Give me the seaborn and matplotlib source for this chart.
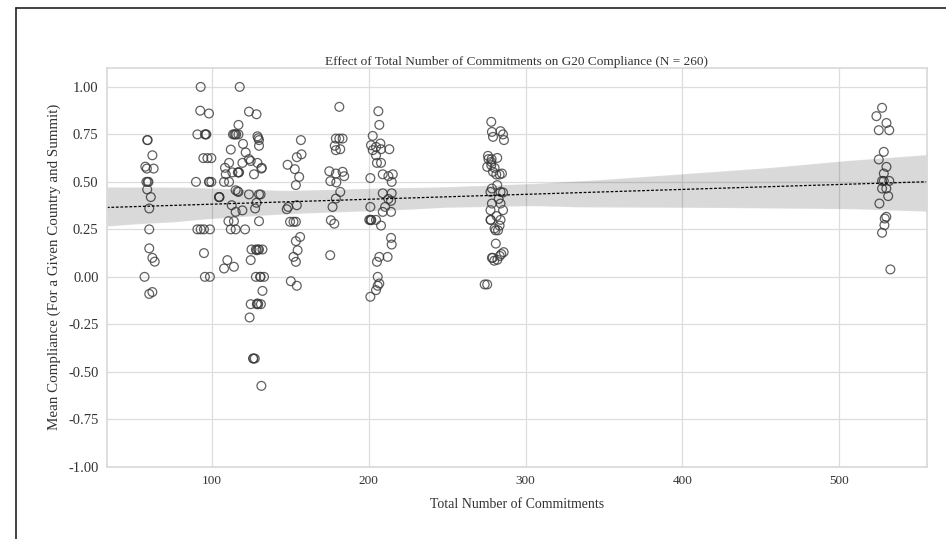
import numpy as np
import pandas as pd
import matplotlib
matplotlib.use("Agg")
import matplotlib.pyplot as plt
from matplotlib.lines import Line2D
import seaborn as sns

# ---------------------------------------------------------------------------
# values, one pair of lists per summit cluster
commit_a = [58.7, 59.0, 62.0, 57.5, 58.5, 62.8, 58.2, 59.0, 59.5, 58.7,
            61.0, 60.0, 60.0, 60.0, 62.0, 63.5, 57.0, 60.0, 62.0]
comply_a = [0.72, 0.72, 0.64, 0.58, 0.57, 0.57, 0.50, 0.50, 0.50, 0.46,
            0.42, 0.36, 0.25, 0.15, 0.10, 0.08, 0.00, -0.09, -0.08]

commit_b = [92.8, 92.5, 98.1, 90.7, 95.5, 96.4, 96.0, 94.5, 97.1, 99.6,
            89.8, 98.1, 98.3, 99.6, 90.7, 92.8, 94.9, 98.7, 94.9, 95.5, 98.7]
comply_b = [1.00, 0.875, 0.86, 0.75, 0.75, 0.75, 0.75, 0.625, 0.625, 0.625,
            0.50, 0.50, 0.50, 0.50, 0.25, 0.25, 0.25, 0.25, 0.125, 0.00, 0.00]

commit_c = [117.7, 123.6, 128.4, 116.9, 113.4, 114.9, 116.9, 115.5, 114.2,
            129.0, 130.0, 129.5, 119.8, 112.0, 121.5, 123.6, 130.0,
            110.9, 119.4, 124.7, 129.0, 131.8, 131.5, 108.3, 113.0, 116.9,
            117.3, 116.5, 108.8, 126.8, 107.7, 110.9,
            115.1, 116.9, 116.3, 104.5, 104.8, 104.6, 123.6, 131.0, 130.0, 128.4,
            112.6, 119.4, 115.1, 127.5, 110.5, 114.0, 130.0,
            112.0, 115.1, 121.1, 125.2, 128.0, 129.4, 132.2, 128.5, 130.0,
            124.7, 109.8, 114.0, 107.7, 128.0, 130.7, 133.2, 131.0, 132.2,
            124.7, 128.6, 131.2, 129.5, 129.0, 124.0, 126.2, 127.3, 126.5, 131.5]
comply_c = [1.00, 0.87, 0.856, 0.80, 0.75, 0.75, 0.75, 0.75, 0.75,
            0.74, 0.72, 0.73, 0.70, 0.67, 0.655, 0.62, 0.69,
            0.60, 0.60, 0.61, 0.60, 0.574, 0.57, 0.574, 0.55, 0.55,
            0.55, 0.55, 0.54, 0.54, 0.50, 0.50,
            0.456, 0.447, 0.45, 0.42, 0.42, 0.42, 0.434, 0.434, 0.434, 0.39,
            0.377, 0.35, 0.342, 0.36, 0.293, 0.293, 0.293,
            0.25, 0.25, 0.25, 0.144, 0.144, 0.144, 0.144, 0.14, 0.144,
            0.088, 0.088, 0.053, 0.044, 0.00, 0.00, 0.00, 0.00, -0.074,
            -0.144, -0.144, -0.144, -0.144, -0.14, -0.214, -0.43, -0.43, -0.43, -0.574]

commit_d = [156.7, 154.1, 157.1, 148.2, 152.8, 155.6, 153.5, 148.6, 147.7,
            154.1, 149.8, 152.0, 153.5, 156.2, 153.5, 154.6, 152.0, 153.5,
            150.3, 154.1]
comply_d = [0.72, 0.63, 0.645, 0.59, 0.567, 0.526, 0.483, 0.368, 0.356,
            0.377, 0.29, 0.29, 0.29, 0.21, 0.188, 0.14, 0.105, 0.079,
            -0.023, -0.047]

commit_e = [181.2, 179.0, 181.2, 183.3, 178.3, 179.0, 181.8, 174.8, 179.0,
            183.3, 184.3, 175.5, 179.3, 181.8, 179.0, 176.9, 175.8, 178.0, 175.4]
comply_e = [0.895, 0.728, 0.728, 0.728, 0.69, 0.667, 0.672, 0.556, 0.544,
            0.553, 0.53, 0.504, 0.497, 0.447, 0.412, 0.368, 0.298, 0.28, 0.114]

commit_f = [206.1, 206.7, 202.5, 201.4, 202.5, 204.6, 207.4, 207.8, 213.1,
            204.6, 205.2, 207.8, 201.0, 208.9, 212.5, 215.3, 214.6,
            208.9, 214.6, 212.5, 214.2, 201.0, 210.4, 208.9, 214.2,
            200.3, 201.4, 204.6, 201.0, 201.6, 207.8, 214.2, 214.6,
            206.7, 205.2, 212.0, 205.7, 206.7, 205.7, 204.6, 201.0]
comply_f = [0.872, 0.80, 0.742, 0.693, 0.667, 0.684, 0.702, 0.672, 0.672,
            0.64, 0.60, 0.60, 0.52, 0.54, 0.53, 0.54, 0.50,
            0.44, 0.44, 0.41, 0.40, 0.368, 0.368, 0.342, 0.342,
            0.30, 0.298, 0.30, 0.30, 0.30, 0.27, 0.205, 0.17,
            0.105, 0.079, 0.105, 0.00, -0.035, -0.047, -0.07, -0.105]

commit_g = [278.1, 278.5, 284.0, 279.2, 285.6, 286.2, 276.0, 281.9, 278.1,
            278.1, 275.5, 276.3, 278.3, 279.2, 281.3, 283.4, 284.9, 280.2,
            281.9, 277.6, 278.5, 284.0, 285.6, 278.5, 284.0, 277.6, 285.6,
            282.8, 277.6, 277.8, 284.0, 280.2, 283.4, 281.5, 280.8, 282.4,
            281.0, 284.5, 286.0, 279.0, 282.0, 280.0, 278.5, 283.5, 273.9, 275.5]
comply_g = [0.816, 0.763, 0.767, 0.737, 0.75, 0.72, 0.637, 0.626, 0.605,
            0.588, 0.579, 0.62, 0.62, 0.553, 0.539, 0.539, 0.544, 0.574,
            0.483, 0.447, 0.465, 0.447, 0.444, 0.386, 0.386, 0.351, 0.351,
            0.41, 0.30, 0.30, 0.30, 0.255, 0.27, 0.32, 0.245, 0.245,
            0.175, 0.12, 0.13, 0.10, 0.09, 0.085, 0.10, 0.11, -0.04, -0.04]

commit_h = [527.3, 523.7, 530.1, 525.2, 531.9, 528.4, 525.2, 530.1, 528.4,
            528.4, 531.9, 527.3, 530.0, 527.3, 531.2, 525.6, 530.0, 529.0,
            528.8, 527.3, 532.6]
comply_h = [0.89, 0.846, 0.81, 0.772, 0.772, 0.658, 0.618, 0.579, 0.544,
            0.505, 0.505, 0.505, 0.465, 0.465, 0.425, 0.386, 0.316, 0.307,
            0.272, 0.232, 0.039]

df = pd.DataFrame({
    "commitments": commit_a + commit_b + commit_c + commit_d + commit_e
                   + commit_f + commit_g + commit_h,
    "compliance": comply_a + comply_b + comply_c + comply_d + comply_e
                  + comply_f + comply_g + comply_h,
})

# ---------------------------------------------------------------------------
sns.set_theme(style="whitegrid")
plt.rcParams["font.family"] = ["Liberation Serif", "DejaVu Serif"]
plt.rcParams["text.color"] = "#333333"
plt.rcParams["axes.labelcolor"] = "#333333"
plt.rcParams["xtick.color"] = "#333333"
plt.rcParams["ytick.color"] = "#333333"

fig = plt.figure(figsize=(9.46, 5.39), dpi=100)
ax = fig.add_axes([0.113, 0.134, 0.867, 0.740])
ax.set_xlim(33, 556)
ax.set_ylim(-1.0, 1.1)

# band drawn wide, as in the source figure
sns.regplot(data=df, x="commitments", y="compliance", ax=ax, truncate=False,
            ci=99.9, n_boot=2000, seed=1,
            scatter_kws=dict(s=40, facecolors="none", edgecolors="#3a3a3a",
                             linewidths=0.9),
            line_kws=dict(color="black", linestyle=(0, (2.2, 1.4)), linewidth=0.9))

ax.set_xlim(33, 556)
ax.set_ylim(-1.0, 1.1)
ax.set_xticks([100, 200, 300, 400, 500])
ax.set_yticks(np.arange(-1.0, 1.01, 0.25))
ax.yaxis.set_major_formatter(matplotlib.ticker.FormatStrFormatter("%.2f"))
ax.tick_params(axis="x", labelsize=9.5, pad=0)
ax.tick_params(axis="y", labelsize=10.5, pad=0)
for s in ax.spines.values():
    s.set_color("#d9d9d9")
ax.grid(color="#dddddd", linewidth=0.9)

ax.set_title("Effect of Total Number of Commitments on G20 Compliance (N = 260)",
             fontsize=9.5, pad=2)
ax.set_xlabel("Total Number of Commitments", fontsize=10, labelpad=8)
ax.set_ylabel("Mean Compliance (For a Given Country and Summit)", fontsize=10.8,
              labelpad=5)

# scan frame at top-left of the page
fig.add_artist(Line2D([16 / 946, 1], [1 - 8 / 539] * 2, color="#222222", lw=1.2))
fig.add_artist(Line2D([16 / 946] * 2, [0, 1 - 8 / 539], color="#222222", lw=1.2))

fig.savefig("out.png", dpi=100)
